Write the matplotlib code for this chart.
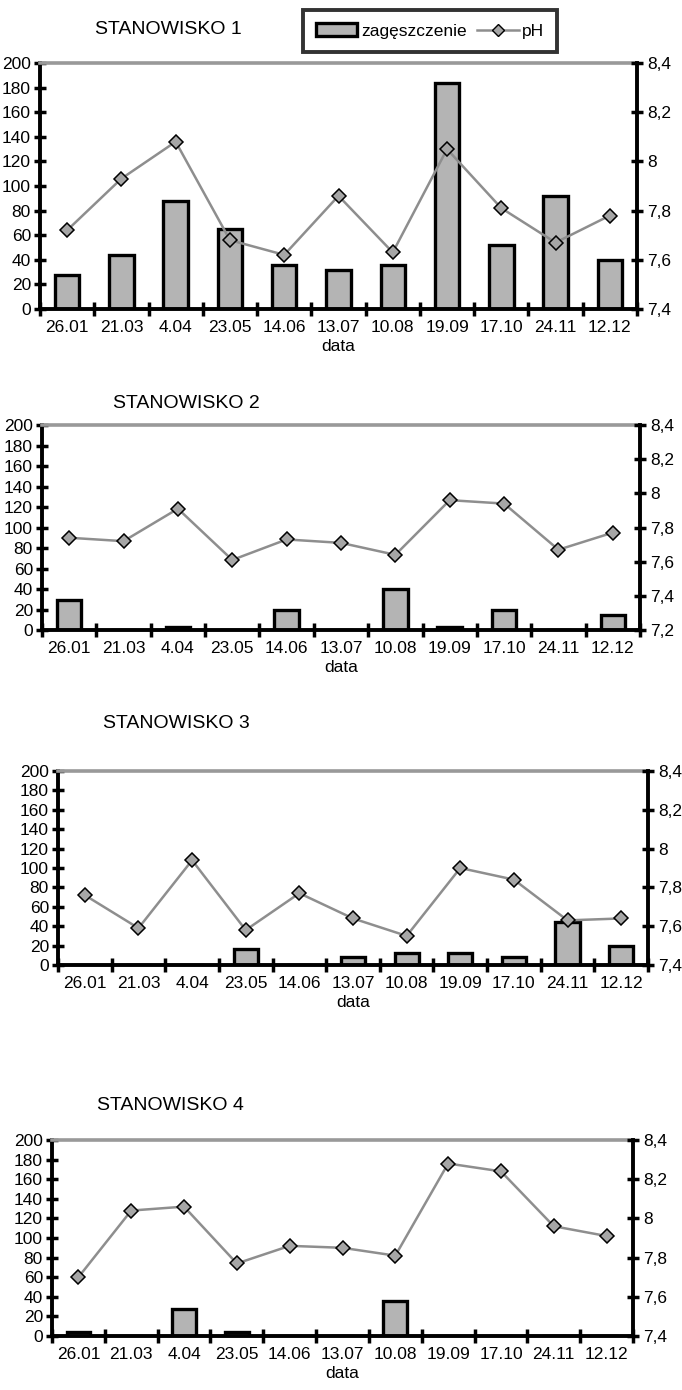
import numpy as np
import matplotlib
matplotlib.use('Agg')
import matplotlib.pyplot as plt
from matplotlib.ticker import FuncFormatter, FixedLocator
from matplotlib.lines import Line2D
from matplotlib.patches import Patch

plt.rcParams['font.family'] = ['Liberation Sans', 'DejaVu Sans']

# dates of sampling
dates = ['26.01', '21.03', '4.04', '23.05', '14.06', '13.07', '10.08', '19.09', '17.10', '24.11', '12.12']

# zageszczenie (bars), per site
dens1 = [28, 44, 88, 65, 36, 32, 36, 184, 52, 92, 40]
dens2 = [29, 0, 3, 0, 20, 0, 40, 3, 20, 0, 15]
dens3 = [0, 0, 0, 17, 0, 8, 12, 12, 8, 44, 20]
dens4 = [4, 0, 28, 4, 0, 0, 36, 0, 0, 0, 0]

# pH (line), per site
ph1 = [7.72, 7.93, 8.08, 7.68, 7.62, 7.86, 7.63, 8.05, 7.81, 7.67, 7.78]
ph2 = [7.74, 7.72, 7.91, 7.61, 7.73, 7.71, 7.64, 7.96, 7.94, 7.67, 7.77]
ph3 = [7.76, 7.59, 7.94, 7.58, 7.77, 7.64, 7.55, 7.90, 7.84, 7.63, 7.64]
ph4 = [7.70, 8.04, 8.06, 7.77, 7.86, 7.85, 7.81, 8.28, 8.24, 7.96, 7.91]

titles = ['STANOWISKO 1', 'STANOWISKO 2', 'STANOWISKO 3', 'STANOWISKO 4']
ph_limits = [(7.4, 8.4), (7.2, 8.4), (7.4, 8.4), (7.4, 8.4)]

W, H = 682, 1390
# axes boxes in pixels: left, right, top, bottom
boxes = [(40, 637, 63, 309), (42, 640, 425, 630), (58, 648, 771, 965), (52, 633, 1140, 1336)]
title_pos = [(95, 30), (113, 403), (103, 724), (97, 1106)]

BAR_FC = '#b4b4b4'
LINE_C = '#8e8e8e'
MARK_C = '#a6a6a6'
FS = 12.5

fig = plt.figure(figsize=(W / 100, H / 100), dpi=100)
fig.patch.set_facecolor('white')

comma = FuncFormatter(lambda v, p: ('%g' % round(v, 2)).replace('.', ','))

data = [(dens1, ph1), (dens2, ph2), (dens3, ph3), (dens4, ph4)]
x = np.arange(len(dates))

for i, (dens, ph) in enumerate(data):
    l, r, t, b = boxes[i]
    ax = fig.add_axes([l / W, 1 - b / H, (r - l) / W, (b - t) / H])
    ax.bar(x, dens, width=0.45, color=BAR_FC, edgecolor='black', linewidth=2.4, zorder=2)
    ax.set_xlim(-0.5, len(dates) - 0.5)
    ax.set_ylim(0, 200)
    ax.set_yticks(np.arange(0, 201, 20))
    ax.xaxis.set_major_locator(FixedLocator(x))
    ax.set_xticklabels(dates)
    ax.xaxis.set_minor_locator(FixedLocator(np.arange(-0.5, len(dates), 1)))
    ax.tick_params(axis='x', which='major', length=0, labelsize=FS, pad=8)
    ax.tick_params(axis='x', which='minor', direction='inout', length=10, width=2.5)
    ax.tick_params(axis='y', direction='inout', length=9, width=2.5, labelsize=FS, pad=2)
    for s in ['left', 'bottom']:
        ax.spines[s].set_linewidth(2.8)
    ax.spines['right'].set_visible(False)
    ax.spines['top'].set_color('#999999')
    ax.spines['top'].set_linewidth(2.6)
    ax.set_xlabel('data', fontsize=FS, labelpad=3)

    ax2 = ax.twinx()
    lo, hi = ph_limits[i]
    ax2.plot(x, ph, color=LINE_C, linewidth=1.8, marker='D', markersize=7,
             markerfacecolor=MARK_C, markeredgecolor='black', markeredgewidth=1.1, zorder=3)
    ax2.set_ylim(lo, hi)
    ax2.set_yticks(np.arange(lo, hi + 0.001, 0.2))
    ax2.yaxis.set_major_formatter(comma)
    ax2.tick_params(axis='y', direction='inout', length=9, width=2.5, labelsize=FS, pad=3)
    ax2.spines['right'].set_linewidth(2.8)
    ax2.spines['left'].set_visible(False)
    ax2.spines['bottom'].set_visible(False)
    ax2.spines['top'].set_visible(False)

    tx, ty = title_pos[i]
    fig.text(tx / W, 1 - ty / H, titles[i], fontsize=14, va='center', ha='left')

# legend at the top
handles = [Patch(facecolor=BAR_FC, edgecolor='black', linewidth=2.4),
           Line2D([0], [0], color=LINE_C, linewidth=1.8, marker='D', markersize=6,
                  markerfacecolor=MARK_C, markeredgecolor='black')]
leg = fig.legend(handles, ['zagęszczenie', 'pH'], loc='center',
                 bbox_to_anchor=(430 / W, 1 - 31 / H), ncol=2, fontsize=12.5,
                 frameon=True, fancybox=False, handlelength=2.4, handletextpad=0.2,
                 columnspacing=0.6, borderpad=0.75)
leg.get_frame().set_edgecolor('black')
leg.get_frame().set_linewidth(2.8)

fig.savefig('out.png', dpi=100)
